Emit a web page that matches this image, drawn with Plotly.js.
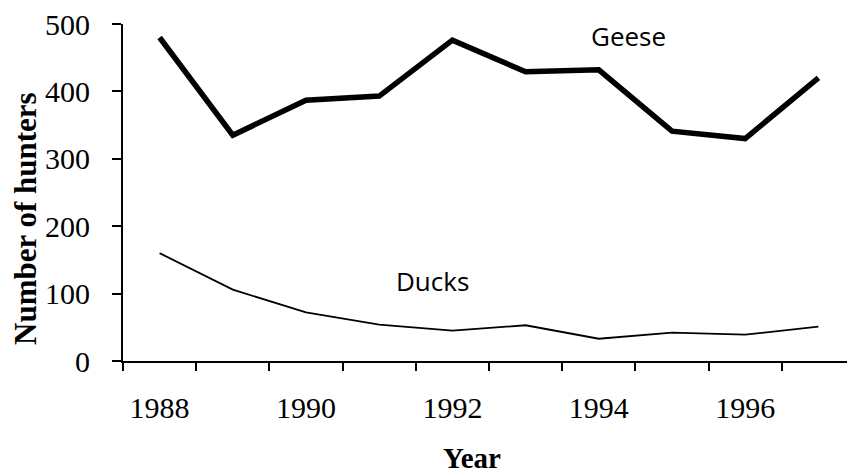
<!DOCTYPE html>
<html><head><meta charset="utf-8">
<script src="https://cdn.plot.ly/plotly-3.0.1.min.js"></script>
<style>html,body{margin:0;padding:0;background:#fff}</style>
</head><body><div id="chart" style="width:847px;height:475px"></div>
<script>
const years = [1988, 1989, 1990, 1991, 1992, 1993, 1994, 1995, 1996, 1997];
const geese = [480, 335, 387, 393, 476, 429, 432, 341, 330, 420];
const ducks = [160, 106, 72, 54, 45, 53, 33, 42, 39, 51];
const xTickVals = [1988, 1990, 1992, 1994, 1996];
const xTickText = ['1988', '1990', '1992', '1994', '1996'];
const yTickVals = [0, 100, 200, 300, 400, 500];
const seriesNames = ['Geese', 'Ducks'];
const xTitle = 'Year';
const yTitle = 'Number of hunters';

const serif = 'Liberation Serif, Times New Roman, serif';
const sans = 'Open Sans, Noto Sans, sans-serif';

const traces = [
  {x: years, y: geese, name: seriesNames[0], type: 'scatter', mode: 'lines',
   line: {color: '#000', width: 5.5}, hoverinfo: 'x+y'},
  {x: years, y: ducks, name: seriesNames[1], type: 'scatter', mode: 'lines',
   line: {color: '#000', width: 1.8}, hoverinfo: 'x+y'}
];

const layout = {
  width: 847, height: 475,
  margin: {l: 123, r: 0, t: 24, b: 114},
  paper_bgcolor: '#fff', plot_bgcolor: '#fff',
  showlegend: false,
  xaxis: {
    range: [1987.5, 1997.391],
    showline: true, linecolor: '#000', linewidth: 2,
    showgrid: false, zeroline: false,
    ticks: '', tickvals: xTickVals, ticktext: xTickText,
    tickfont: {family: serif, size: 30, color: '#000'},
    ticklabelstandoff: 19,
    minor: {ticks: 'outside', tick0: 1987.5, dtick: 1, ticklen: 8, tickwidth: 2, tickcolor: '#000', showgrid: false}
  },
  yaxis: {
    range: [0, 500],
    showline: true, linecolor: '#000', linewidth: 2,
    showgrid: false, zeroline: false,
    ticks: 'outside', ticklen: 9, tickwidth: 2, tickcolor: '#000',
    tickvals: yTickVals,
    tickfont: {family: serif, size: 30, color: '#000'},
    ticklabelstandoff: 16
  },
  annotations: [
    {text: seriesNames[0], x: 1994.4, y: 482, xref: 'x', yref: 'y', showarrow: false,
     font: {family: sans, size: 26, color: '#000'}},
    {text: seriesNames[1], x: 1991.735, y: 119, xref: 'x', yref: 'y', showarrow: false,
     font: {family: sans, size: 26, color: '#000'}},
    {text: '<b>' + xTitle + '</b>', x: 0.482, y: -0.288, xref: 'paper', yref: 'paper', showarrow: false,
     xanchor: 'center', yanchor: 'middle', font: {family: serif, size: 29, color: '#000'}},
    {text: '<b>' + yTitle + '</b>', x: -0.1354, y: 0.4243, xref: 'paper', yref: 'paper', showarrow: false,
     textangle: -90, xanchor: 'center', yanchor: 'middle', font: {family: serif, size: 31, color: '#000'}}
  ]
};

Plotly.newPlot('chart', traces, layout, {displayModeBar: false, staticPlot: true});
</script>
</body></html>
